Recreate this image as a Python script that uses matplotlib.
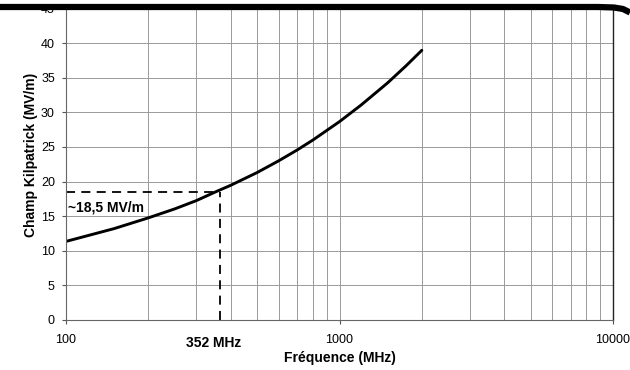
import matplotlib.pyplot as plt
from matplotlib.lines import Line2D
from matplotlib.ticker import FixedLocator, NullFormatter, FixedFormatter

plt.rcParams['font.family'] = ['Liberation Sans', 'DejaVu Sans']

# Champ Kilpatrick
freq = [100, 150, 200, 250, 300, 352, 400, 500, 600, 700, 800, 1000, 1200, 1500, 1750, 2000]
champ = [11.35, 13.2, 14.75, 16.05, 17.25, 18.5, 19.45, 21.3, 23.0, 24.55, 26.0, 28.65, 31.05, 34.25, 36.7, 38.95]

f_rf = 352
f_repere = 366
e_rf = 18.5

fig = plt.figure(figsize=(6.3, 3.7), dpi=100)
ax = fig.add_axes([66 / 630, 50 / 370, 547 / 630, 311.6 / 370])

ax.set_xscale('log')
ax.set_xlim(100, 10000)
ax.set_ylim(0, 45)

grid_col = '#9a9a9a'
ax.xaxis.set_major_locator(FixedLocator([100, 1000, 10000]))
ax.xaxis.set_major_formatter(FixedFormatter(['100', '1000', '10000']))
ax.xaxis.set_minor_locator(FixedLocator([200, 300, 400, 500, 600, 700, 800, 900,
                                         2000, 3000, 4000, 5000, 6000, 7000, 8000, 9000]))
ax.xaxis.set_minor_formatter(NullFormatter())
ax.set_yticks(range(0, 46, 5))
ax.grid(True, which='both', axis='x', color=grid_col, lw=0.7)
ax.grid(True, which='major', axis='y', color=grid_col, lw=0.7)
ax.set_axisbelow(True)

ax.tick_params(axis='both', which='major', labelsize=9, length=3, color='#555555')
ax.tick_params(axis='x', which='minor', length=0)
ax.tick_params(axis='x', pad=7)
ax.tick_params(axis='y', pad=5)
for s in ax.spines.values():
    s.set_color('#666666')
    s.set_linewidth(0.8)
ax.spines['right'].set_color('#222222')
ax.spines['right'].set_linewidth(1.0)

ax.plot(freq, champ, color='black', lw=2.1, solid_capstyle='round')

# repères 352 MHz / 18,5 MV/m
ax.plot([100, f_repere], [e_rf, e_rf], color='black', lw=1.3, dashes=(5, 3.5))
ax.plot([f_repere, f_repere], [0, e_rf], color='black', lw=1.3, dashes=(5, 3.5))
ax.text(101.5, 16.2, '~18,5 MV/m', fontsize=10, fontweight='bold', va='center', ha='left')
ax.text(f_rf * 0.985, -3.3, '%d MHz' % f_rf, fontsize=10, fontweight='bold',
        va='center', ha='center', clip_on=False)

ax.set_xlabel('Fréquence (MHz)', fontsize=10, fontweight='bold', labelpad=4)
ax.set_ylabel('Champ Kilpatrick (MV/m)', fontsize=10, fontweight='bold')
ax.yaxis.set_label_coords(-0.052, 0.53)

# bord noir de la page scannée
bx = [0, 598, 614, 623, 630]
by = [7, 7, 7.5, 9, 12.5]
fig.add_artist(Line2D([x / 630 for x in bx], [1 - y / 370 for y in by],
                      color='black', lw=4.5, solid_capstyle='butt', zorder=10))

fig.savefig('out.png', dpi=100)
